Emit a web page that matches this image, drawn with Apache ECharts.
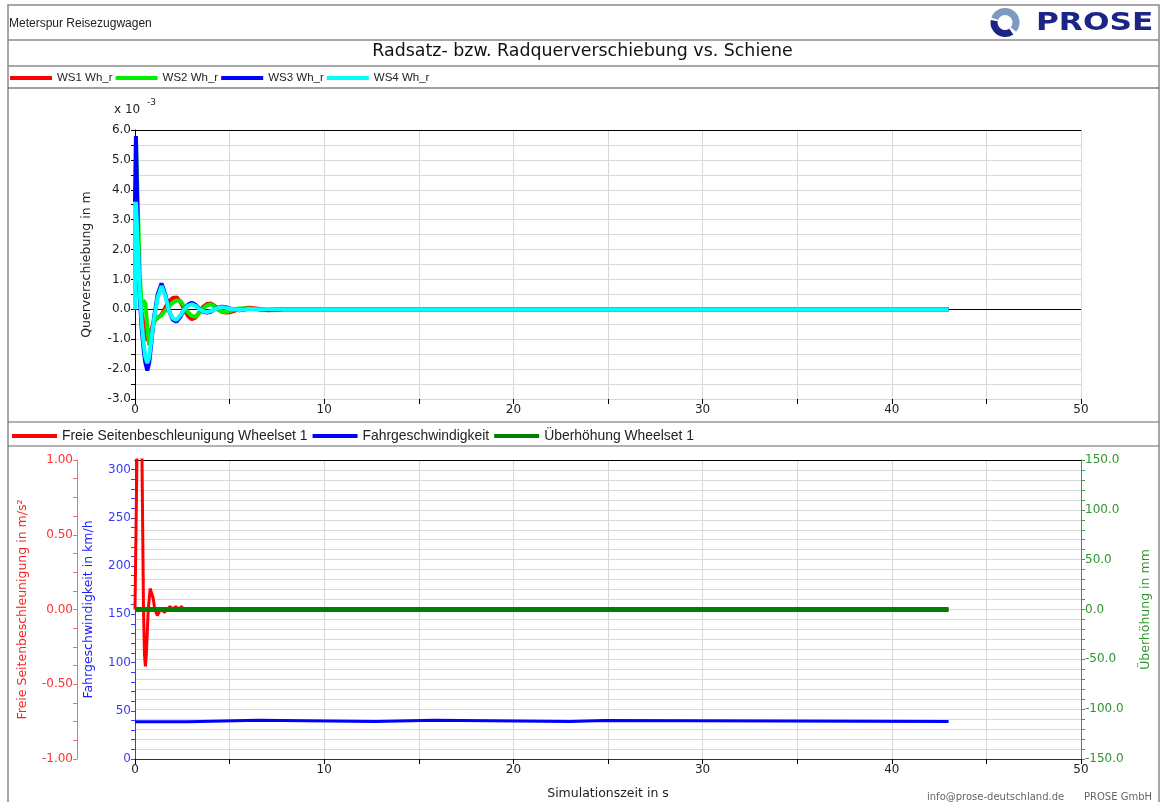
<!DOCTYPE html>
<html>
<head>
<meta charset="utf-8">
<script src="https://cdn.jsdelivr.net/npm/echarts@6/dist/echarts.min.js"></script>
<style>
  html, body { margin: 0; padding: 0; background: #fff; }
  #chart { width: 1165px; height: 802px; }
</style>
</head>
<body>
<div id="chart"></div>
<script>
// ---- Wheelset lateral displacement (x 10^-3 m) ----
const topTime = [0, 0.05, 0.15, 0.25, 0.35, 0.45, 0.55, 0.65, 0.75, 0.85,
  1.0, 1.2, 1.4, 1.6, 1.8, 2.0, 2.2, 2.4, 2.6, 2.8,
  3.0, 3.2, 3.4, 3.6, 3.8, 4.0, 4.2, 4.4, 4.6, 4.8,
  5.0, 5.5, 6.0, 6.5, 7.0, 7.5, 8.0, 9.0, 10.0, 12.0,
  15.0, 20.0, 25.0, 30.0, 35.0, 40.0, 43.0];

const ws1 = [0.0, 4.0, 2.0, 0.6, -0.1, -0.5, -0.85, -1.05, -1.0, -0.7,
  -0.4, -0.28, -0.18, 0.05, 0.28, 0.38, 0.4, 0.25, 0.0, -0.22,
  -0.33, -0.28, -0.1, 0.08, 0.18, 0.2, 0.12, 0.0, -0.08, -0.11,
  -0.1, 0.0, 0.05, 0.02, -0.03, -0.02, 0.01, 0.0, 0.0, 0.0,
  0.0, 0.0, 0.0, 0.0, 0.0, 0.0, 0.0];

const ws2 = [0.0, 5.7, 3.5, 1.2, 0.1, 0.3, 0.2, -0.6, -1.2, -0.9,
  -0.4, -0.28, -0.2, -0.05, 0.1, 0.22, 0.3, 0.28, 0.1, -0.1,
  -0.22, -0.25, -0.12, 0.03, 0.13, 0.17, 0.1, -0.02, -0.08, -0.09,
  -0.06, 0.03, 0.03, -0.01, -0.02, 0.0, 0.0, 0.0, 0.0, 0.0,
  0.0, 0.0, 0.0, 0.0, 0.0, 0.0, 0.0];

const ws3 = [3.6, 5.8, 2.4, 0.4, -0.6, -1.3, -1.8, -2.05, -1.8, -1.2,
  -0.3, 0.5, 0.87, 0.5, -0.05, -0.35, -0.41, -0.25, 0.0, 0.15,
  0.22, 0.15, 0.02, -0.08, -0.11, -0.08, 0.0, 0.06, 0.09, 0.07,
  0.03, -0.03, 0.01, 0.01, -0.01, 0.0, 0.0, 0.0, 0.0, 0.0,
  0.0, 0.0, 0.0, 0.0, 0.0, 0.0, 0.0];

const ws4 = [0.0, 3.6, 2.2, 0.6, -0.4, -1.1, -1.6, -1.8, -1.6, -1.1,
  -0.35, 0.4, 0.78, 0.45, -0.05, -0.3, -0.35, -0.2, 0.0, 0.12,
  0.17, 0.12, 0.01, -0.07, -0.09, -0.06, 0.0, 0.05, 0.07, 0.05,
  0.02, -0.02, 0.01, 0.0, 0.0, 0.0, 0.0, 0.0, 0.0, 0.0,
  0.0, 0.0, 0.0, 0.0, 0.0, 0.0, 0.0];

const topNames = ['WS1 Wh_r', 'WS2 Wh_r', 'WS3 Wh_r', 'WS4 Wh_r'];
const topColors = ['#ff0000', '#00ee00', '#0000ff', '#00ffff'];

// ---- Lateral acceleration (m/s^2), speed (km/h), cant (mm) ----
const accelTime = [0, 0.1, 0.2, 0.3, 0.37, 0.45, 0.5, 0.55, 0.6, 0.7,
  0.8, 0.85, 0.95, 1.05, 1.18, 1.3, 1.4, 1.55, 1.7, 1.85,
  2.0, 2.15, 2.3, 2.45, 2.6, 3.0, 5.0, 10.0, 20.0, 30.0, 43.0];
const accelValue = [0.0, 1.0, 1.8, 1.4, 1.0, 0.0, -0.3, -0.38, -0.3, 0.0,
  0.14, 0.15, 0.08, 0.0, -0.04, -0.01, 0.01, -0.02, 0.0, 0.02,
  0.0, 0.02, 0.0, 0.02, 0.0, 0.0, 0.0, 0.0, 0.0, 0.0, 0.0];

const speedTime = [0, 2.8, 2.85, 6.5, 6.55, 12.7, 12.75, 15.8, 15.85, 23.0, 23.05, 24.8, 24.85, 43.0];
const speedValue = [38.7, 38.7, 40.3, 40.3, 39.0, 39.0, 40.3, 40.3, 39.0, 39.0, 40.0, 40.0, 39.0, 39.0];

const cantTime = [0, 43.0];
const cantValue = [0.0, 0.0];

const bottomNames = ['Freie Seitenbeschleunigung Wheelset 1', 'Fahrgeschwindigkeit', 'Überhöhung Wheelset 1'];
const bottomColors = ['#ff0000', '#0000ff', '#008000'];

const pairs = (xs, ys) => xs.map((x, i) => [x, ys[i]]);

const FONT = 'DejaVu Sans';
const UI_FONT = 'Liberation Sans';
const GRID_GRAY = '#d8d8d8';
const FRAME = '#8a8a8a';

const chart = echarts.init(document.getElementById('chart'), null, { renderer: 'canvas' });

function timeAxis(gridIndex, extra) {
  return Object.assign({
    gridIndex, type: 'value', min: 0, max: 50, interval: 5,
    axisLine: { show: false, onZero: false },
    axisTick: { show: true, length: 5, lineStyle: { color: '#000' } },
    axisLabel: {
      color: '#222', fontSize: 12, margin: 5,
      formatter: v => (v % 10 === 0 ? String(v) : '')
    },
    splitLine: { show: true, lineStyle: { color: GRID_GRAY, width: 1 } }
  }, extra || {});
}

function frameAxis(gridIndex) {
  return {
    gridIndex, type: 'value', position: 'top', min: 0, max: 50,
    axisLine: { show: true, onZero: false, lineStyle: { color: '#000', width: 1 } },
    axisTick: { show: false }, axisLabel: { show: false }, splitLine: { show: false }
  };
}

const topSeries = [ws1, ws2, ws3, ws4].map((vals, i) => ({
  name: topNames[i], type: 'line', xAxisIndex: 0, yAxisIndex: 0,
  data: pairs(topTime, vals), showSymbol: false, symbol: 'none',
  lineStyle: { color: topColors[i], width: 4 }, itemStyle: { color: topColors[i] },
  z: 3 + i,
  markLine: i === 0 ? {
    silent: true, symbol: 'none', label: { show: false },
    lineStyle: { color: '#000', width: 1, type: 'solid' },
    data: [{ yAxis: 0 }], z: 2
  } : undefined
}));

const option = {
  animation: false,
  textStyle: { fontFamily: FONT },
  grid: [
    { left: 135, top: 130, width: 946, height: 269 },
    { left: 135, top: 460, width: 946, height: 299 }
  ],
  legend: [
    {
      data: topNames, left: 5, top: 67, icon: 'rect', itemWidth: 42, itemHeight: 4,
      itemGap: 3, textStyle: { fontSize: 11.5, color: '#222', fontFamily: UI_FONT }
    },
    {
      data: bottomNames, left: 7, top: 424, icon: 'rect', itemWidth: 45, itemHeight: 4,
      itemGap: 5, textStyle: { fontSize: 13.9, color: '#222', fontFamily: UI_FONT }
    }
  ],
  xAxis: [
    timeAxis(0),
    frameAxis(0),
    timeAxis(1, {
      axisLine: { show: true, onZero: false, lineStyle: { color: '#333', width: 1 } },
      name: 'Simulationszeit in s', nameLocation: 'middle', nameGap: 28,
      nameTextStyle: { fontSize: 12.5, color: '#222' }
    }),
    frameAxis(1)
  ],
  yAxis: [
    {
      gridIndex: 0, type: 'value', min: -3, max: 6, interval: 0.5,
      axisLine: { show: true, onZero: false, lineStyle: { color: '#000' } },
      axisTick: { show: true, length: 4, lineStyle: { color: '#000' } },
      axisLabel: {
        color: '#222', fontSize: 12, margin: 4,
        formatter: v => (Number.isInteger(v) ? v.toFixed(1) : '')
      },
      splitLine: { show: true, lineStyle: { color: GRID_GRAY, width: 1 } },
      name: 'Querverschiebung in m', nameLocation: 'middle', nameGap: 42,
      nameTextStyle: { fontSize: 12.5, color: '#222' }
    },
    {
      gridIndex: 1, type: 'value', position: 'left', offset: 58,
      min: -1, max: 1, interval: 0.125,
      axisLine: { show: true, onZero: false, lineStyle: { color: '#ff6a6a' } },
      axisTick: { show: true, length: 4, lineStyle: { color: '#ff6a6a' } },
      axisLabel: {
        color: '#ff3030', fontSize: 12, margin: 4,
        formatter: v => (Math.abs(v * 2 - Math.round(v * 2)) < 1e-9 ? v.toFixed(2) : '')
      },
      splitLine: { show: false },
      name: 'Freie Seitenbeschleunigung in m/s²', nameLocation: 'middle', nameGap: 48,
      nameTextStyle: { fontSize: 12.5, color: '#ff2020' }
    },
    {
      gridIndex: 1, type: 'value', position: 'left', offset: 0,
      min: 0, max: 310, interval: 10,
      axisLine: { show: true, onZero: false, lineStyle: { color: '#3a3aff' } },
      axisTick: { show: true, length: 4, lineStyle: { color: '#3a3aff' } },
      axisLabel: {
        color: '#3a3aff', fontSize: 12, margin: 4, showMaxLabel: false,
        formatter: v => (v % 50 === 0 ? String(v) : '')
      },
      splitLine: { show: false },
      name: 'Fahrgeschwindigkeit in km/h', nameLocation: 'middle', nameGap: 40,
      nameTextStyle: { fontSize: 12.5, color: '#2020ff' }
    },
    {
      gridIndex: 1, type: 'value', position: 'right',
      min: -150, max: 150, interval: 10,
      axisLine: { show: true, onZero: false, lineStyle: { color: '#3c9a3c' } },
      axisTick: { show: true, length: 4, lineStyle: { color: '#3c9a3c' } },
      axisLabel: {
        color: '#2f962f', fontSize: 12, margin: 4,
        formatter: v => (v % 50 === 0 ? v.toFixed(1) : '')
      },
      splitLine: { show: true, lineStyle: { color: GRID_GRAY, width: 1 } },
      name: 'Überhöhung in mm', nameLocation: 'middle', nameGap: 58,
      nameTextStyle: { fontSize: 12.5, color: '#2f962f' }
    }
  ],
  series: topSeries.concat([
    {
      name: bottomNames[0], type: 'line', xAxisIndex: 2, yAxisIndex: 1,
      data: pairs(accelTime, accelValue), showSymbol: false, symbol: 'none',
      lineStyle: { color: bottomColors[0], width: 3 }, itemStyle: { color: bottomColors[0] }, z: 3
    },
    {
      name: bottomNames[1], type: 'line', xAxisIndex: 2, yAxisIndex: 2,
      data: pairs(speedTime, speedValue), showSymbol: false, symbol: 'none',
      lineStyle: { color: bottomColors[1], width: 3 }, itemStyle: { color: bottomColors[1] }, z: 4
    },
    {
      name: bottomNames[2], type: 'line', xAxisIndex: 2, yAxisIndex: 3,
      data: pairs(cantTime, cantValue), showSymbol: false, symbol: 'none',
      lineStyle: { color: bottomColors[2], width: 5 }, itemStyle: { color: bottomColors[2] }, z: 5
    }
  ]),
  graphic: [
    // page frame and panel separators
    { type: 'rect', shape: { x: 8, y: 5, width: 1151, height: 820 }, style: { fill: null, stroke: FRAME, lineWidth: 1.5 }, silent: true },
    { type: 'line', shape: { x1: 8, y1: 40, x2: 1159, y2: 40 }, style: { stroke: FRAME, lineWidth: 1.5 }, silent: true },
    { type: 'line', shape: { x1: 8, y1: 66, x2: 1159, y2: 66 }, style: { stroke: FRAME, lineWidth: 1.5 }, silent: true },
    { type: 'line', shape: { x1: 8, y1: 88, x2: 1159, y2: 88 }, style: { stroke: '#444', lineWidth: 1.2 }, silent: true },
    { type: 'line', shape: { x1: 8, y1: 422, x2: 1159, y2: 422 }, style: { stroke: '#666', lineWidth: 1.2 }, silent: true },
    { type: 'line', shape: { x1: 8, y1: 446, x2: 1159, y2: 446 }, style: { stroke: '#666', lineWidth: 1.2 }, silent: true },
    // header
    { type: 'text', left: 9, top: 18, style: { text: 'Meterspur Reisezugwagen', fontSize: 12, fontFamily: UI_FONT, fill: '#222' }, silent: true },
    // logo
    { type: 'arc', shape: { cx: 1005, cy: 22.5, r: 11, startAngle: 200 * Math.PI / 180, endAngle: 400 * Math.PI / 180, clockwise: true },
      style: { stroke: '#7f9ac0', lineWidth: 7, fill: null }, silent: true },
    { type: 'arc', shape: { cx: 1005, cy: 22.5, r: 11, startAngle: 55 * Math.PI / 180, endAngle: 190 * Math.PI / 180, clockwise: true },
      style: { stroke: '#1c2484', lineWidth: 7, fill: null }, silent: true },
    { type: 'text', x: 1036, y: 12, scaleX: 1.3, style: { text: 'PROSE', fontSize: 24, fontWeight: 'bold', fontFamily: FONT, fill: '#1c2484' }, silent: true },
    // title
    { type: 'text', left: 'center', top: 43, style: { text: 'Radsatz- bzw. Radquerverschiebung vs. Schiene', fontSize: 17.4, fontFamily: FONT, fill: '#111' }, silent: true },
    // exponent label of the displacement axis
    { type: 'text', left: 114, top: 104, style: { text: 'x 10', fontSize: 12, fontFamily: FONT, fill: '#222' }, silent: true },
    { type: 'text', left: 147, top: 98, style: { text: '-3', fontSize: 9, fontFamily: FONT, fill: '#222' }, silent: true },
    // footer
    { type: 'text', left: 927, top: 792, style: { text: 'info@prose-deutschland.de', fontSize: 10, fontFamily: FONT, fill: '#666' }, silent: true },
    { type: 'text', left: 1084, top: 792, style: { text: 'PROSE GmbH', fontSize: 10, fontFamily: FONT, fill: '#666' }, silent: true }
  ]
};

chart.setOption(option);
</script>
</body>
</html>
